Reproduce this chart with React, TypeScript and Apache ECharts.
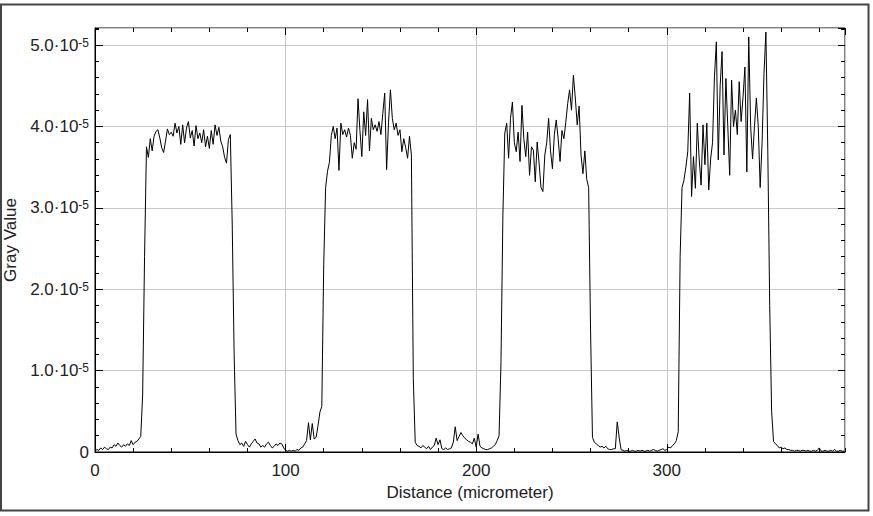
import React, { useEffect, useRef } from "react";
import * as echarts from "echarts";

// Sampling step along the line profile (micrometer)
const STEP_UM = 1;
// Values below are in units of 1e-6 (gray value)
const UNIT = 1e-6;

const baselineStart = [0.1, 0.3, 0.2, 0.5, 0.3, 0.6, 0.4, 0.3, 0.6, 0.5, 0.9, 0.7, 1.1, 0.8, 0.6, 0.9, 0.7, 1.0, 0.8, 1.4, 0.9, 1.2, 1.3, 1.6];
const band1 = [
  1.9, 7, 24, 37.5,
  36.2, 38.5, 37.0, 38.8, 39.4, 39.6, 38.6, 37.4, 36.8, 38.2,
  39.7, 39.0, 39.3, 38.8, 40.4, 39.2, 40.0, 37.8, 40.2, 38.0,
  39.8, 40.6, 38.6, 39.5, 37.6, 40.1, 38.5, 39.2, 38.0, 39.6,
  37.5, 38.8, 37.3, 39.5, 37.8, 40.2, 38.9, 39.9, 38.2, 37.5,
  36.2, 35.5, 38.4, 39.0,
  28, 12, 2.2,
];
const gap1 = [
  1.4, 0.9, 1.1, 0.7, 1.3, 0.9, 0.6, 1.0, 1.3, 1.6,
  1.1, 1.0, 0.6, 0.8, 0.6, 1.0, 1.2, 0.8, 0.5, 0.7,
  1.0, 0.8, 1.1, 1.0, 0.5, 0.2, 0.1, 0.2, 0.1, 0.2,
  0.1, 0.3, 0.2, 0.5, 0.6, 1.0, 1.4, 3.6, 1.5, 3.5,
  1.6, 1.8, 3.2, 4.9, 5.6,
];
const band2 = [
  23, 32.5, 34.5, 35.6, 38.9, 40.0, 38.5, 39.8, 34.6, 40.4,
  39.0, 39.6, 38.7, 39.8, 38.9, 36.1, 38.0, 37.2, 43.4, 39.5,
  36.3, 41.8, 38.9, 43.3, 37.0, 41.0, 39.6, 40.2, 39.4, 40.6,
  39.0, 41.6, 44.1, 34.7, 40.5, 44.5, 41.0, 39.6, 40.4, 38.9,
  39.6, 36.9, 38.5, 37.4, 36.1, 38.8, 36.5, 9,
];
const gap2 = [
  1.2, 0.8, 0.7, 0.5, 0.8, 0.6, 0.4, 0.7, 0.3, 0.6,
  0.8, 1.7, 0.9, 1.5, 0.4, 0.3, 0.5, 0.3, 0.4, 0.5,
  1.2, 3.1, 1.4, 1.9, 2.4, 2.0, 1.7, 1.5, 1.3, 1.2,
  1.0, 1.7, 0.6, 2.2, 0.7, 0.5, 0.4, 0.3, 0.3, 0.4,
  0.5, 0.7, 0.9, 1.4, 2.0,
];
const band3 = [
  11, 29, 39.2, 40.4, 36.1, 41.0, 43.0, 38.0, 36.9, 39.3,
  35.7, 42.6, 38.5, 36.3, 39.3, 34.0, 37.5, 37.1, 33.2, 38.1,
  35.5, 32.5, 32.0, 36.5, 38.0, 41.0, 37.0, 34.8, 39.0, 40.8,
  38.5, 35.7, 39.5, 38.5, 40.5, 42.8, 44.5, 42.0, 46.3, 43.5,
  40.2, 42.5, 36.5, 34.2, 37.0, 33.5, 32.5, 15,
];
const gap3 = [
  1.8, 1.2, 1.0, 0.8, 0.6, 0.7, 0.5, 0.7, 0.4, 0.3,
  0.3, 0.4, 0.4, 3.7, 1.8, 0.3, 0.2, 0.1, 0.2, 0.1,
  0.1, 0.2, 0.1, 0.1, 0.2, 0.1, 0.2, 0.1, 0.1, 0.2,
  0.1, 0.2, 0.3, 0.2, 0.1, 0.2, 0.3, 0.4, 0.2, 0.3,
  0.6, 0.5, 0.8, 1.0, 1.4, 2.5,
];
const band4 = [
  24, 32.5, 33.4, 35.0, 36.9, 44.1, 31.4, 36.3, 32.4, 40.4,
  36.0, 32.8, 40.2, 35.3, 40.4, 32.2, 36.0, 38.0, 46.1, 50.4,
  35.9, 45.0, 49.2, 36.5, 45.9, 40.0, 34.0, 45.7, 40.0, 42.0,
  39.0, 45.5, 40.6, 43.6, 47.3, 34.4, 51.0, 40.0, 36.0, 40.0,
  43.5, 40.0, 32.5, 38.0, 46.5, 51.6, 37.0, 18, 5,
];
const baselineEnd = [
  1.3, 1.0, 0.8, 0.5, 0.6, 0.4, 0.5, 0.3, 0.3, 0.2,
  0.2, 0.1, 0.2, 0.2, 0.1, 0.2, 0.2, 0.1, 0.2, 0.1,
  0.1, 0.2, 0.1, 0.2, 0.5, 0.1, 0.1, 0.2, 0.1, 0.1,
  0.2, 0.1, 0.3, 0.1, 0.1, 0.2, 0.1, 0.1,
];

const grayValues = [
  ...baselineStart, ...band1, ...gap1, ...band2, ...gap2,
  ...band3, ...gap3, ...band4, ...baselineEnd,
];

const X_MAX = 393.5;
const Y_MAX = 5.21e-5;
const X_TITLE = "Distance (micrometer)";
const Y_TITLE = "Gray Value";

const FONT = "Liberation Sans, Arial, sans-serif";
const TEXT = "#222";

export default function App() {
  const ref = useRef<HTMLDivElement>(null);
  useEffect(() => {
    if (!ref.current) return;
    const chart = echarts.init(ref.current, null, { renderer: "svg" });
    const data = grayValues.map((v, i) => [i * STEP_UM, v * UNIT]);

    const tickLine = { color: "#000", width: 1 };
    const xBase = {
      type: "value",
      min: 0,
      max: X_MAX,
      gridIndex: 0,
      axisLine: { show: false, onZero: false },
      axisLabel: { show: false },
      splitLine: { show: false },
    };
    const yBase = {
      type: "value",
      min: 0,
      max: Y_MAX,
      gridIndex: 0,
      axisLine: { show: false, onZero: false },
      axisLabel: { show: false },
      splitLine: { show: false },
    };

    chart.setOption({
      animation: false,
      backgroundColor: "#fff",
      grid: {
        left: 95,
        right: 28,
        top: 28,
        bottom: 64,
        show: true,
        borderColor: "#000",
        borderWidth: 1,
        backgroundColor: "#fff",
        outerBoundsMode: "none",
        containLabel: false,
      },
      xAxis: [
        {
          ...xBase,
          position: "bottom",
          interval: 100,
          axisLine: { show: true, onZero: false, lineStyle: tickLine },
          axisTick: { show: true, inside: true, length: 8, lineStyle: tickLine },
          axisLabel: {
            show: true,
            margin: 10,
            fontSize: 17,
            fontFamily: FONT,
            color: TEXT,
            showMaxLabel: false,
          },
          splitLine: { show: true, lineStyle: { color: "#c8c8c8", width: 1 } },
          name: X_TITLE,
          nameLocation: "middle",
          nameGap: 32,
          nameTextStyle: { fontSize: 17, fontFamily: FONT, color: TEXT },
        },
        {
          ...xBase,
          position: "bottom",
          interval: 20,
          axisTick: { show: true, inside: true, length: 4, lineStyle: tickLine },
        },
        {
          ...xBase,
          position: "top",
          interval: 100,
          axisTick: { show: true, inside: true, length: 7, lineStyle: tickLine },
        },
        {
          ...xBase,
          position: "top",
          interval: 20,
          axisTick: { show: true, inside: true, length: 4, lineStyle: tickLine },
        },
      ],
      yAxis: [
        {
          ...yBase,
          position: "left",
          interval: 1e-5,
          axisLine: { show: true, onZero: false, lineStyle: tickLine },
          axisTick: { show: true, inside: true, length: 8, lineStyle: tickLine },
          axisLabel: {
            show: true,
            margin: 6,
            showMaxLabel: false,
            fontFamily: FONT,
            color: TEXT,
            formatter: (v: number) =>
              v === 0 ? "{m|0}" : `{m|${(v * 1e5).toFixed(1)}·10}{s|-5}`,
            rich: {
              m: { fontSize: 17, fontFamily: FONT, color: TEXT },
              s: { fontSize: 12, fontFamily: FONT, color: TEXT, verticalAlign: "top" },
            },
          },
          splitLine: { show: true, lineStyle: { color: "#c8c8c8", width: 1 } },
          name: Y_TITLE,
          nameLocation: "middle",
          nameGap: 74,
          nameTextStyle: { fontSize: 17, fontFamily: FONT, color: TEXT },
        },
        {
          ...yBase,
          position: "left",
          interval: 2e-6,
          axisTick: { show: true, inside: true, length: 4, lineStyle: tickLine },
        },
        {
          ...yBase,
          position: "right",
          interval: 1e-5,
          axisTick: { show: true, inside: true, length: 7, lineStyle: tickLine },
        },
        {
          ...yBase,
          position: "right",
          interval: 2e-6,
          axisTick: { show: true, inside: true, length: 4, lineStyle: tickLine },
        },
      ],
      graphic: [
        {
          type: "rect",
          shape: { x: 1, y: 4.5, width: 867.5, height: 506 },
          style: { fill: "none", stroke: "#444", lineWidth: 2 },
          silent: true,
          z: 100,
        },
      ],
      series: [
        {
          type: "line",
          xAxisIndex: 0,
          yAxisIndex: 0,
          data,
          showSymbol: false,
          symbol: "none",
          lineStyle: { color: "#000", width: 1 },
          z: 5,
        },
      ],
    });
    return () => chart.dispose();
  }, []);

  return (
    <div
      ref={ref}
      style={{ position: "absolute", left: 0, top: 0, width: 873, height: 516, background: "#fff" }}
    />
  );
}
